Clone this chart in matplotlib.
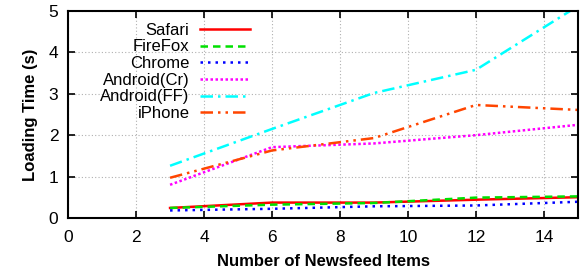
import matplotlib
matplotlib.use("Agg")
import matplotlib.pyplot as plt

plt.rcParams['font.family'] = ['Liberation Sans', 'DejaVu Sans']

# number of newsfeed items
items = [3, 6, 9, 12, 15]

# loading time (s) per browser
safari = [0.24, 0.37, 0.37, 0.44, 0.50]
firefox = [0.24, 0.32, 0.36, 0.49, 0.52]
chrome = [0.18, 0.22, 0.28, 0.30, 0.39]
android_cr = [0.80, 1.71, 1.80, 2.00, 2.25]
android_ff = [1.26, 2.15, 3.02, 3.58, 5.12]
iphone = [0.97, 1.63, 1.93, 2.73, 2.61]

labels = ['Safari', 'FireFox', 'Chrome', 'Android(Cr)', 'Android(FF)', 'iPhone']
series = [safari, firefox, chrome, android_cr, android_ff, iphone]
colors = ['#ff0000', '#00e000', '#0000ff', '#ff00ff', '#00ffff', '#ff4500']
styles = ['-', (0, (3, 2)), (0, (1, 2)), (0, (1, 1)), (0, (5, 2, 1, 2)), (0, (5, 2, 1, 2, 1, 2))]

fig = plt.figure(figsize=(5.82, 2.70), dpi=100)
ax = fig.add_axes([0.117, 0.193, 0.876, 0.766])

for y, lab, c, ls in zip(series, labels, colors, styles):
    ax.plot(items, y, color=c, linestyle=ls, linewidth=1.8, label=lab)

ax.set_xlim(0, 15)
ax.set_ylim(0, 5)
ax.set_xticks(range(0, 15, 2))
ax.set_yticks(range(0, 6))
ax.grid(True, color='#b0b0b0', linestyle=(0, (1, 2)), linewidth=0.8)
ax.tick_params(direction='in', top=True, right=True, length=5, width=1.2,
               labelsize=12.5)
ax.tick_params(axis='x', pad=9)
ax.tick_params(axis='y', pad=7)
for s in ax.spines.values():
    s.set_linewidth(1.5)

ax.set_xlabel('Number of Newsfeed Items', fontsize=12, fontweight='bold', labelpad=6)
ax.set_ylabel('Loading Time (s)', fontsize=12, fontweight='bold', labelpad=8)

# gnuplot-style key: right-aligned text, sample to the right
ax.legend(loc='upper left', bbox_to_anchor=(0.04, 1.0), frameon=False,
          markerfirst=False, fontsize=12, handlelength=3.0,
          labelspacing=0.1, borderpad=0.2, handletextpad=0.6)

fig.savefig('out.png', dpi=100)
